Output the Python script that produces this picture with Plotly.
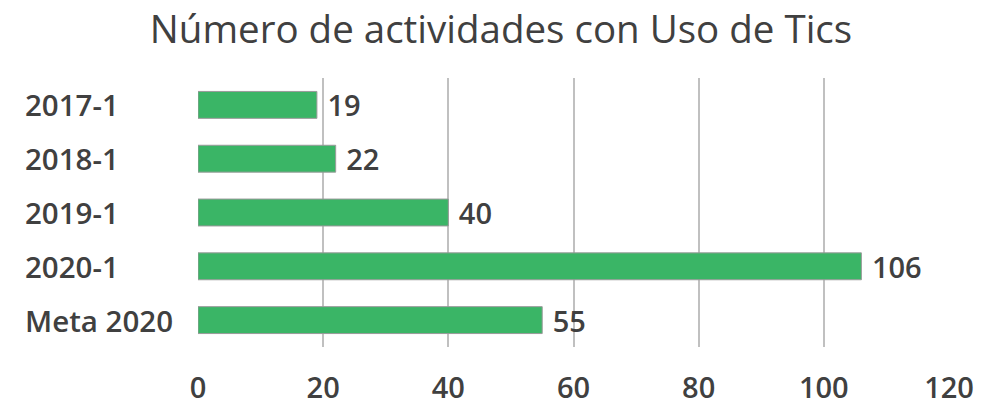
import plotly.graph_objects as go

categories = ["2017-1", "2018-1", "2019-1", "2020-1", "Meta 2020"]
values = [19, 22, 40, 106, 55]
x_ticks = [0, 20, 40, 60, 80, 100, 120]
title_text = "Número de actividades con Uso de Tics"

FONT = "Open Sans"
TXT = "#404040"

fig = go.Figure()
fig.add_trace(go.Bar(
    y=categories, x=values, orientation="h",
    marker=dict(color="#3ab566", line=dict(color="#9a9a9a", width=1)),
    text=[f" {v}" for v in values], textposition="outside",
    constraintext="none",
    textfont=dict(family=FONT, size=29, color=TXT, weight=600),
    cliponaxis=False, showlegend=False,
))

# page body adds an 8px offset, so layout positions are compensated
L, R, T, B = 190, 61, 70, 62
W, H = 1002, 410
pw = W - L - R
for c in categories:
    fig.add_annotation(
        x=-(L - 15) / pw, xref="paper", y=c, yref="y",
        text=c, showarrow=False, xanchor="left", yanchor="middle",
        font=dict(family=FONT, size=29.5, color=TXT, weight=600),
    )

fig.update_layout(
    width=W, height=H,
    margin=dict(l=L, r=R, t=T, b=B),
    paper_bgcolor="white", plot_bgcolor="white",
    bargap=0.5,
    title=dict(text=title_text, x=(501 - 8) / W, xref="container", xanchor="center",
               y=1 - 22 / H, yref="container", yanchor="middle",
               font=dict(family=FONT, size=38.5, color=TXT, weight=500)),
    xaxis=dict(range=[0, 120], tickvals=x_ticks, showgrid=True,
               gridcolor="#c0c0c0", gridwidth=2, zeroline=False,
               showline=False, ticks="", ticklabelstandoff=21,
               tickfont=dict(family=FONT, size=29, color=TXT, weight=600)),
    yaxis=dict(type="category", autorange="reversed", showticklabels=False,
               showgrid=False, zeroline=False, showline=False, ticks=""),
)

fig.write_html("out.html")
